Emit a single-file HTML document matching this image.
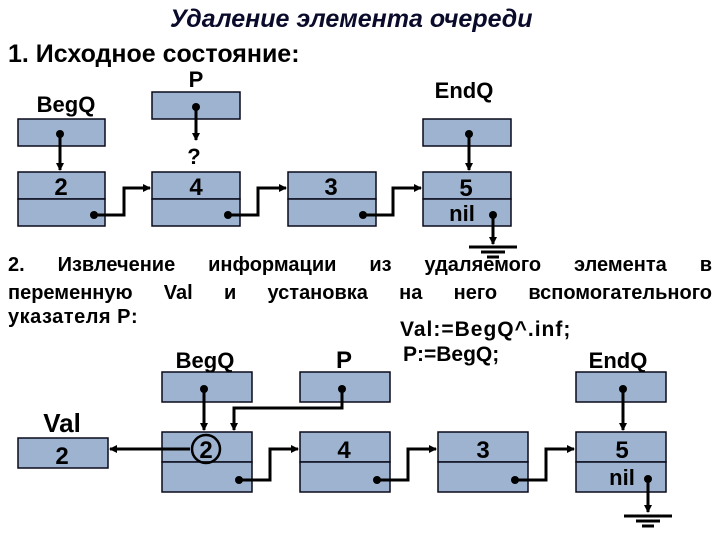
<!DOCTYPE html>
<html><head><meta charset="utf-8"><style>
body{margin:0;width:720px;height:540px;background:#fff;overflow:hidden;position:relative;font-family:"Liberation Sans",sans-serif;font-weight:bold;color:#000}
.t{position:absolute;white-space:nowrap}
.j{position:absolute;left:8px;width:704px;font-size:20px;text-align:justify;text-align-last:justify;white-space:nowrap}
</style></head><body>
<div class="t" style="left:170px;top:5px;font-size:25px;font-style:italic;color:#0a0a2a">Удаление элемента очереди</div>
<div class="t" style="left:8px;top:40px;font-size:25px">1. Исходное состояние:</div>
<div class="j" style="top:254px">2. Извлечение информации из удаляемого элемента в</div>
<div class="j" style="top:282px">переменную Val и установка на него вспомогательного</div>
<div class="t" style="left:8px;top:306px;font-size:20px;letter-spacing:0.5px">указателя P:</div>
<div class="t" style="left:400px;top:318px;font-size:21px;letter-spacing:1px">Val:=BegQ^.inf;</div>
<div class="t" style="left:403px;top:343px;font-size:21px">P:=BegQ;</div>
<svg width="720" height="540" style="position:absolute;left:0;top:0" font-family="Liberation Sans, sans-serif" font-weight="bold">
<defs><marker id="a" markerWidth="8" markerHeight="8" refX="7" refY="4" orient="auto" markerUnits="userSpaceOnUse"><path d="M0,0L8,4L0,8z" fill="#000"/></marker></defs>
<g fill="#9db3cf" stroke="#0a0a1a" stroke-width="1.5">
<rect x="18" y="119" width="87" height="27"/><rect x="152" y="92" width="88" height="27"/><rect x="423" y="119" width="88" height="27"/>
<rect x="18" y="172" width="87" height="27"/><rect x="18" y="199" width="87" height="27"/>
<rect x="152" y="172" width="88" height="27"/><rect x="152" y="199" width="88" height="27"/>
<rect x="288" y="172" width="88" height="27"/><rect x="288" y="199" width="88" height="27"/>
<rect x="423" y="172" width="88" height="27"/><rect x="423" y="199" width="88" height="27"/>
<rect x="162" y="372" width="90" height="30"/><rect x="300" y="372" width="90" height="30"/><rect x="576" y="372" width="90" height="30"/>
<rect x="18" y="438" width="90" height="30"/>
<rect x="162" y="432" width="90" height="30"/><rect x="162" y="462" width="90" height="30"/>
<rect x="300" y="432" width="90" height="30"/><rect x="300" y="462" width="90" height="30"/>
<rect x="438" y="432" width="90" height="30"/><rect x="438" y="462" width="90" height="30"/>
<rect x="576" y="432" width="90" height="30"/><rect x="576" y="462" width="90" height="30"/>
</g>
<g font-size="22" text-anchor="middle" fill="#000">
<text x="66" y="112">BegQ</text><text x="196" y="87">P</text><text x="464" y="98">EndQ</text>
<text x="194" y="164">?</text>
<text x="61" y="195" font-size="24">2</text><text x="196" y="195" font-size="24">4</text><text x="331" y="195" font-size="24">3</text>
<text x="466" y="196" font-size="24">5</text><text x="462" y="221" font-size="22">nil</text>
<text x="205" y="368" font-size="22">BegQ</text><text x="344" y="368" font-size="24">P</text><text x="618" y="368" font-size="22">EndQ</text>
<text x="62" y="432" font-size="26">Val</text><text x="62" y="464" font-size="24">2</text>
<text x="206" y="458" font-size="24">2</text><text x="344" y="458" font-size="24">4</text><text x="483" y="458" font-size="24">3</text>
<text x="622" y="458" font-size="24">5</text><text x="622" y="485" font-size="22">nil</text>
</g>
<g stroke="#000" stroke-width="3" fill="none">
<path d="M60,134V170" marker-end="url(#a)"/><path d="M196,107V140" marker-end="url(#a)"/><path d="M469,134V170" marker-end="url(#a)"/>
<path d="M95,215H124V188H150" marker-end="url(#a)"/><path d="M229,215H258V188H286" marker-end="url(#a)"/><path d="M364,215H393V188H421" marker-end="url(#a)"/>
<path d="M493,216V244" marker-end="url(#a)"/>
<path d="M204,389V430" marker-end="url(#a)"/><path d="M342,389V408H234V430" marker-end="url(#a)"/><path d="M623,389V430" marker-end="url(#a)"/>
<path d="M190,449H110" marker-end="url(#a)"/>
<path d="M239,480H270V449H298" marker-end="url(#a)"/><path d="M377,480H408V449H436" marker-end="url(#a)"/><path d="M515,480H546V449H574" marker-end="url(#a)"/>
<path d="M648,479V512" marker-end="url(#a)"/>
<path d="M469,247H517M481,252H505M487,257H499"/>
<path d="M624,516H672M636,521H660M642,526H654"/>
</g>
<circle cx="206" cy="449" r="14" fill="none" stroke="#000" stroke-width="2.5"/>
<g fill="#000">
<circle cx="60" cy="134" r="4"/><circle cx="196" cy="107" r="4"/><circle cx="469" cy="134" r="4"/>
<circle cx="94" cy="215" r="4"/><circle cx="228" cy="215" r="4"/><circle cx="363" cy="215" r="4"/><circle cx="493" cy="215" r="4"/>
<circle cx="204" cy="389" r="4"/><circle cx="342" cy="389" r="4"/><circle cx="623" cy="389" r="4"/>
<circle cx="239" cy="480" r="4"/><circle cx="377" cy="480" r="4"/><circle cx="515" cy="480" r="4"/><circle cx="648" cy="479" r="4"/>
</g>
</svg>
</body></html>
